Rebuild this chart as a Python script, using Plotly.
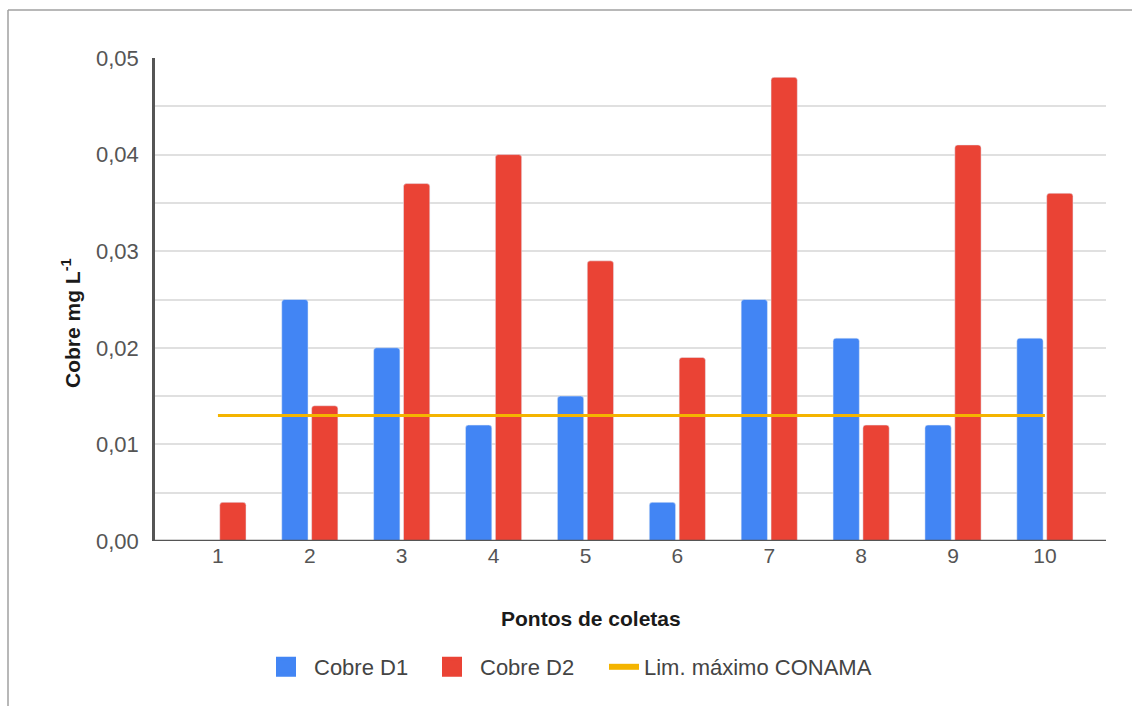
import plotly.graph_objects as go

# Copper concentrations at each collection point (mg/L)
pontos = [1, 2, 3, 4, 5, 6, 7, 8, 9, 10]
cobre_d1 = [0.0, 0.025, 0.020, 0.012, 0.015, 0.004, 0.025, 0.021, 0.012, 0.021]
cobre_d2 = [0.004, 0.014, 0.037, 0.040, 0.029, 0.019, 0.048, 0.012, 0.041, 0.036]
limite_conama = [0.013] * len(pontos)

AZUL, VERMELHO, AMARELO = "#4285F4", "#EA4335", "#F4B400"

W, H = 1132, 706
ML, MR, MT, MB = 155, 26, 58, 165
PW, PH = W - ML - MR, H - MT - MB


def px_x(px):
    return (px - ML) / PW


def px_y(py):
    return (H - MB - py) / PH


fig = go.Figure()
fig.add_trace(go.Bar(x=pontos, y=cobre_d1, name="Cobre D1", marker_color=AZUL,
                     showlegend=False))
fig.add_trace(go.Bar(x=pontos, y=cobre_d2, name="Cobre D2", marker_color=VERMELHO,
                     showlegend=False))
fig.add_trace(go.Scatter(x=pontos, y=limite_conama, name="Lim. máximo CONAMA",
                         mode="lines", line=dict(color=AMARELO, width=3),
                         showlegend=False))

# legend entries with larger square swatches, one legend box per entry
fig.add_trace(go.Scatter(x=[None], y=[None], mode="markers", name="Cobre D1",
                         legend="legend",
                         marker=dict(symbol="square", size=16, color=AZUL,
                                     line=dict(color=AZUL, width=4))))
fig.add_trace(go.Scatter(x=[None], y=[None], mode="markers", name="Cobre D2",
                         legend="legend2",
                         marker=dict(symbol="square", size=16, color=VERMELHO,
                                     line=dict(color=VERMELHO, width=4))))
fig.add_trace(go.Scatter(x=[None], y=[None], mode="lines", name="Lim. máximo CONAMA",
                         legend="legend3", line=dict(color=AMARELO, width=6)))

# outer frame of the sheet
frame = dict(color="#a0a0a0", width=1.5)
fig.add_shape(type="line", xref="paper", yref="paper",
              x0=px_x(8), x1=px_x(8), y0=px_y(H + 5), y1=px_y(10), line=frame)
fig.add_shape(type="line", xref="paper", yref="paper",
              x0=px_x(8), x1=px_x(W + 5), y0=px_y(10), y1=px_y(10), line=frame)

# axis titles
titulo = dict(size=21, color="#1a1a1a", family="Liberation Sans, Arial, sans-serif")
fig.add_annotation(text="<b>Pontos de coletas</b>", xref="paper", yref="paper",
                   x=px_x(591), y=px_y(618), xanchor="center", yanchor="middle",
                   showarrow=False, font=titulo)
fig.add_annotation(text="<b>Cobre mg L<sup>-1</sup></b>", xref="paper", yref="paper",
                   x=px_x(71), y=px_y(323), xanchor="center", yanchor="middle",
                   textangle=-90, showarrow=False, font=titulo)


def legenda(px, largura):
    return dict(orientation="h", x=px_x(px), xanchor="left",
                y=px_y(646), yanchor="top", itemsizing="trace", itemwidth=largura,
                font=dict(size=22, color="#444444"), itemclick=False)


fig.update_layout(
    width=W, height=H,
    margin=dict(l=ML, r=MR, t=MT, b=MB, autoexpand=False),
    paper_bgcolor="white", plot_bgcolor="white",
    separators=",.",
    barmode="group", bargap=0.35, bargroupgap=0.12,
    barcornerradius=3,
    font=dict(family="Liberation Sans, Arial, sans-serif", color="#555555", size=21),
    showlegend=True,
    legend=legenda(258, 46), legend2=legenda(424, 46), legend3=legenda(604, 30),
    xaxis=dict(
        range=[0.315, 10.665],
        tickmode="array", tickvals=pontos, ticktext=[str(p) for p in pontos],
        showgrid=False, zeroline=False, showline=False, ticks="",
        tickfont=dict(size=21, color="#555555"),
    ),
    yaxis=dict(
        range=[0, 0.05], dtick=0.01, tickformat=".2f",
        showgrid=True, gridcolor="#e0e0e0", gridwidth=1.5,
        minor=dict(dtick=0.005, showgrid=True, gridcolor="#e0e0e0", gridwidth=1.5),
        zeroline=False, showline=True, linecolor="#555555", linewidth=2.5,
        ticks="", ticklabelstandoff=9,
        tickfont=dict(size=22, color="#555555"),
    ),
)
# dark baseline along zero
fig.add_shape(type="line", xref="paper", yref="y", x0=0, x1=1, y0=0, y1=0,
              line=dict(color="#555555", width=2.5))

fig.write_html("out.html")
